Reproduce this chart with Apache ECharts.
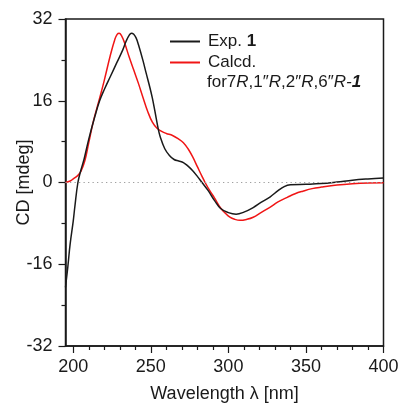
<!DOCTYPE html>
<html>
<head>
<meta charset="utf-8">
<script src="https://cdn.jsdelivr.net/npm/echarts@6/dist/echarts.min.js"></script>
<style>
  html, body { margin: 0; padding: 0; background: #fff; }
  #chart { width: 403px; height: 403px; }
</style>
</head>
<body>
<div id="chart"></div>
<script>
// wavelength (nm) and CD (mdeg)
const expWl = [195, 196.5, 198, 200, 201, 203, 205, 207, 210, 214, 217, 220, 224, 228, 232, 234, 236, 237.5, 239, 240.5, 242, 245, 247, 249.4, 251, 252.6, 254.7, 256, 259, 262, 265, 268, 271, 274, 277, 280, 283, 287, 291, 295, 300, 305, 310, 316, 321, 327, 332, 336, 340, 350, 360, 370, 380, 390, 400];
const expCd = [-20.5, -16.5, -12, -7.5, -4.8, 0, 2.5, 4.6, 8.5, 13, 16, 18.2, 20.8, 23.4, 26, 27.6, 28.8, 29.2, 29, 28.3, 27, 23.8, 21.4, 18.6, 16.5, 14, 10.6, 9, 6.6, 5.3, 4.5, 4.2, 3.9, 3.2, 2.3, 1.2, 0, -1.6, -3.5, -5.1, -5.9, -6.2, -5.8, -4.9, -3.9, -2.8, -1.6, -0.8, -0.45, -0.35, -0.2, 0.1, 0.45, 0.7, 0.9];

const calcWl = [195, 198, 200, 203, 205, 207.5, 210, 213, 217, 220, 224, 226.8, 228.3, 229.6, 231, 233, 236, 239, 242, 245, 248, 251, 254, 257, 260, 264, 268, 271, 274, 277, 280, 283, 285, 288, 291, 295, 298, 301, 304, 307.5, 312, 316, 321, 327, 332, 338, 343, 348, 354, 360, 370, 380, 390, 400];
const calcCd = [0, 0.3, 0.7, 1.4, 2.2, 4.3, 7.8, 12, 16.5, 20, 25, 28, 29, 29.2, 28.8, 27.4, 24.6, 22, 19.4, 16.6, 13.9, 11.8, 10.6, 10, 9.6, 9.2, 8.5, 7.8, 6.6, 5, 3.1, 1.2, 0, -1.6, -3.0, -5.0, -6.0, -6.8, -7.2, -7.4, -7.2, -6.8, -5.9, -4.8, -3.8, -2.9, -2.2, -1.7, -1.2, -0.9, -0.5, -0.25, -0.1, -0.05];

const xMajorTicks = [200, 250, 300, 350, 400];
const xMinorTicks = [210, 220, 230, 240, 260, 270, 280, 290, 310, 320, 330, 340, 360, 370, 380, 390];

const font = "Liberation Sans";
const ink = "#1a1a1a";
const red = "#f01515";

const toPairs = (xs, ys) => xs.map((x, i) => [x, ys[i]]);

const chart = echarts.init(document.getElementById("chart"), null, { renderer: "canvas" });

chart.setOption({
    animation: false,
    textStyle: { fontFamily: font, color: ink },
    grid: {
        left: 65.5, right: 19.5, top: 19, bottom: 57,
        outerBoundsMode: "none",
        show: true, borderColor: ink, borderWidth: 1.5, backgroundColor: "transparent"
    },
    legend: {
        orient: "vertical",
        left: 165, top: 28,
        icon: "rect",
        itemWidth: 30, itemHeight: 2,
        itemGap: 4,
        data: ["Exp", "Calcd"],
        formatter(name) {
            return name === "Exp" ? "{n|Exp. }{b|1}" : "{n|Calcd.}";
        },
        textStyle: {
            padding: [0, 0, 0, 3],
            rich: {
                n: { fontFamily: font, fontSize: 17, color: ink, lineHeight: 19 },
                b: { fontFamily: font, fontSize: 17, color: ink, fontWeight: "bold", lineHeight: 19 }
            }
        }
    },
    graphic: [{
        type: "text",
        left: 207, top: 74,
        style: {
            text: "{n|for7}{i|R}{n|,1″}{i|R}{n|,2″}{i|R}{n|,6″}{i|R-}{bi|1}",
            rich: {
                n: { fontFamily: font, fontSize: 17, fill: ink },
                i: { fontFamily: font, fontSize: 17, fill: ink, fontStyle: "italic" },
                bi: { fontFamily: font, fontSize: 17, fill: ink, fontStyle: "italic", fontWeight: "bold" }
            }
        }
    }],
    xAxis: [{
        type: "value",
        min: 195, max: 400,
        name: "Wavelength λ [nm]",
        nameLocation: "middle",
        nameGap: 39,
        nameMoveOverlap: false,
        nameTextStyle: { fontFamily: font, fontSize: 18, color: ink },
        axisLine: { onZero: false, lineStyle: { color: ink, width: 1.5 } },
        axisTick: { show: true, length: 7, customValues: xMajorTicks, lineStyle: { color: ink, width: 1.2 } },
        axisLabel: { customValues: xMajorTicks, fontSize: 18, color: ink, margin: 12, fontFamily: font },
        splitLine: { show: false }
    }, {
        type: "value",
        min: 195, max: 400,
        position: "bottom",
        axisLine: { show: false, onZero: false },
        axisTick: { show: true, length: 4, customValues: xMinorTicks, lineStyle: { color: ink, width: 1.2 } },
        axisLabel: { show: false },
        splitLine: { show: false }
    }],
    yAxis: {
        type: "value",
        min: -32, max: 32, interval: 16,
        name: "CD [mdeg]",
        nameLocation: "middle",
        nameGap: 32,
        nameMoveOverlap: false,
        nameTextStyle: { fontFamily: font, fontSize: 18, color: ink },
        axisLine: { show: true, onZero: false, lineStyle: { color: ink, width: 1.5 } },
        axisTick: { show: true, length: 7, lineStyle: { color: ink, width: 1.2 } },
        minorTick: { show: true, splitNumber: 2, length: 4, lineStyle: { color: ink, width: 1.2 } },
        axisLabel: { fontSize: 18, color: ink, margin: 13, fontFamily: font },
        splitLine: { show: false }
    },
    series: [{
        name: "Exp",
        type: "line",
        xAxisIndex: 0,
        data: toPairs(expWl, expCd),
        smooth: 0.4,
        showSymbol: false,
        lineStyle: { color: ink, width: 1.5 },
        itemStyle: { color: ink },
        z: 3,
        markLine: {
            silent: true,
            symbol: "none",
            label: { show: false },
            lineStyle: { color: "#a0a0a0", type: [1.3, 3.2], width: 1.2 },
            data: [{ yAxis: 0 }]
        }
    }, {
        name: "Calcd",
        type: "line",
        xAxisIndex: 0,
        data: toPairs(calcWl, calcCd),
        smooth: 0.4,
        showSymbol: false,
        lineStyle: { color: red, width: 1.5 },
        itemStyle: { color: red },
        z: 2
    }]
});
</script>
</body>
</html>
